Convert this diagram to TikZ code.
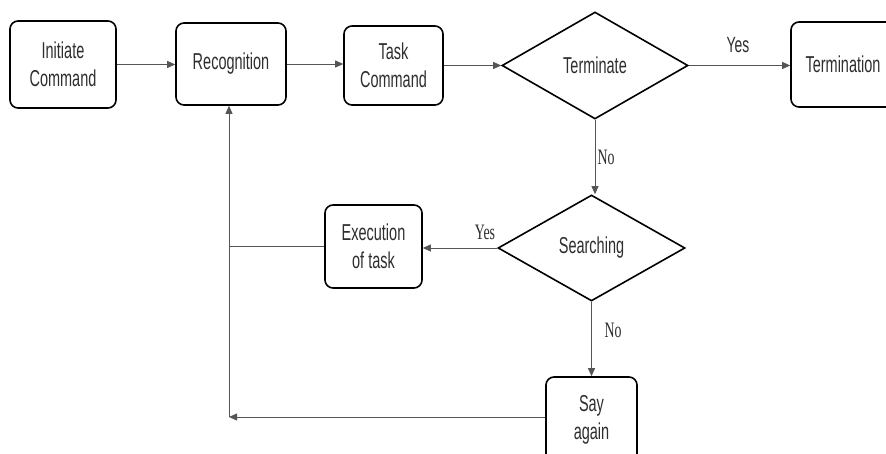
\documentclass[tikz,border=0pt]{standalone}
\usepackage{fontspec}
\setmainfont{Liberation Sans}[FakeStretch=0.63]
\newfontfamily\lblfont{Liberation Serif}[FakeStretch=0.63]
\usetikzlibrary{shapes.geometric,arrows.meta}
\definecolor{txt}{HTML}{2E2E2E}
\definecolor{conn}{HTML}{555555}
\tikzset{
  boxnode/.style={draw=black, line width=1.6pt, rounded corners=8pt, inner sep=0pt, align=center, text=txt, font=\fontsize{23}{28}\selectfont},
  decnode/.style={draw=black, line width=1.6pt, diamond, inner sep=0pt, text=txt, font=\fontsize{23}{28}\selectfont},
  conline/.style={draw=conn, line width=0.8pt},
  conarrow/.style={conline, -{Triangle[length=8pt,width=7pt]}},
  lblserif/.style={text=txt, font=\lblfont\fontsize{22}{28}\selectfont, inner sep=0pt},
  lblsans/.style={text=txt, font=\fontsize{22}{28}\selectfont, inner sep=0pt}
}
\begin{document}
\begin{tikzpicture}[x=1pt,y=-1pt]
\useasboundingbox (0,0) rectangle (886,454);
\clip (0,0) rectangle (886,454);
\fill[white] (0,0) rectangle (886,454);
\node[boxnode, minimum width=106pt, minimum height=87pt] (init) at (63,64.5) {Initiate\\Command};
\node[boxnode, minimum width=110pt, minimum height=82pt] (recog) at (231,64) {Recognition};
\node[boxnode, minimum width=99pt, minimum height=79pt] (task) at (393.5,65.5) {Task\\Command};
\node[decnode, minimum width=186pt, minimum height=107pt] (term) at (595,65.5) {Terminate};
\node[boxnode, minimum width=104pt, minimum height=85pt] (termn) at (843,64.5) {Termination};
\node[decnode, minimum width=187pt, minimum height=106pt] (search) at (591.5,248) {Searching};
\node[boxnode, minimum width=97pt, minimum height=83pt] (exec) at (373.5,246.5) {Execution\\of task};
\node[boxnode, minimum width=91pt, minimum height=86pt] (say) at (591.5,420) {Say\\again};
\coordinate (c1) at (229,246.5);
\coordinate (c2) at (229,417);

\draw[conarrow] (init.east) -- (recog.west |- init.east);
\draw[conarrow] (recog.east) -- (task.west |- recog.east);
\draw[conarrow] (task.east) -- (term.west |- task.east);
\draw[conarrow] (term.east) -- (termn.west |- term.east);
\draw[conarrow] (term.south) -- (term.south |- search.north);
\draw[conarrow] (search.west) -- (exec.east |- search.west);
\draw[conline] (exec.west) -- (c1);
\draw[conarrow] (search.south) -- (search.south |- say.north);
\draw[conarrow] (say.west |- c2) -- (c2);
\draw[conarrow] (c2) -- (c2 |- recog.south);

\node[lblsans] (yes1) at (738,45) {Yes};
\node[lblserif] (no1) at (606,157) {No};
\node[lblserif] (yes2) at (485,232) {Yes};
\node[lblserif] (no2) at (613,330) {No};
\end{tikzpicture}
\end{document}
